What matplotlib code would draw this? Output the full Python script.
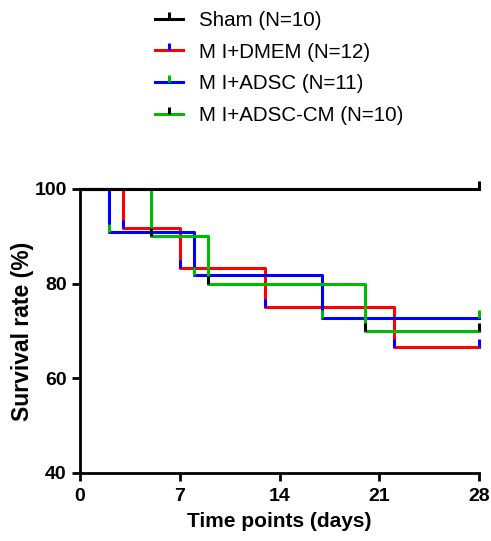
import matplotlib
matplotlib.use("Agg")
import matplotlib.pyplot as plt
from matplotlib.path import Path
from matplotlib.lines import Line2D

plt.rcParams["font.family"] = ["Liberation Sans", "DejaVu Sans"]

# Kaplan-Meier steps: (day, survival %)
sham_days = [0, 28]
sham_surv = [100, 100]
dmem_days = [0, 3, 7, 13, 22, 28]
dmem_surv = [100, 91.67, 83.33, 75.0, 66.67, 66.67]
adsc_days = [0, 2, 8, 17, 28]
adsc_surv = [100, 90.91, 81.82, 72.73, 72.73]
adsccm_days = [0, 5, 9, 20, 28]
adsccm_surv = [100, 90.0, 80.0, 70.0, 70.0]

labels = ["Sham (N=10)", "M I+DMEM (N=12)", "M I+ADSC (N=11)", "M I+ADSC-CM (N=10)"]
colors = ["#000000", "#ff0000", "#0000ff", "#00bb00"]
# GraphPad draws each series' ticks in the following series' colour
tick_colors = ["#000000", "#0000ff", "#00bb00", "#000000"]

series = [(sham_days, sham_surv), (dmem_days, dmem_surv),
          (adsc_days, adsc_surv), (adsccm_days, adsccm_surv)]
zorders = [6, 3, 4, 5]

up_tick = Path([(0, 0), (0, 1)], [Path.MOVETO, Path.LINETO])

fig = plt.figure(figsize=(4.91, 5.41), dpi=100)
ax = fig.add_axes([0.163, 0.1257, 0.813, 0.525])

for (d, s), c, tc, z in zip(series, colors, tick_colors, zorders):
    ax.step(d, s, where="post", color=c, lw=2.2, clip_on=False, zorder=z)
    # tick marks at every event and at the censored end
    ax.plot(d[1:], s[1:], ls="none", marker=up_tick, ms=11, mew=2.2,
            color=tc, clip_on=False, zorder=z + 0.5)

ax.set_xlim(0, 28)
ax.set_ylim(40, 100)
ax.set_xticks([0, 7, 14, 21, 28])
ax.set_yticks([40, 60, 80, 100])
for side in ["top", "right"]:
    ax.spines[side].set_visible(False)
for side in ["left", "bottom"]:
    ax.spines[side].set_linewidth(2)
ax.tick_params(width=2, length=6, labelsize=14)
ax.tick_params(axis="x", pad=5)
for lab in ax.get_xticklabels() + ax.get_yticklabels():
    lab.set_fontweight("bold")
ax.set_xlabel("Time points (days)", fontsize=15, fontweight="bold", labelpad=5)
ax.set_ylabel("Survival rate (%)", fontsize=16.5, fontweight="bold", labelpad=0)

handles = [Line2D([0], [0], color=c, lw=2.2, marker=up_tick, ms=10, mew=2.2,
                  markeredgecolor=tc, markerfacecolor=tc)
           for c, tc in zip(colors, tick_colors)]
fig.legend(handles, labels, loc="upper left", bbox_to_anchor=(0.277, 1.014),
           frameon=False, fontsize=14.8, handlelength=1.4, numpoints=1,
           labelspacing=0.62, handletextpad=0.75)

fig.savefig("out.png", dpi=100)
